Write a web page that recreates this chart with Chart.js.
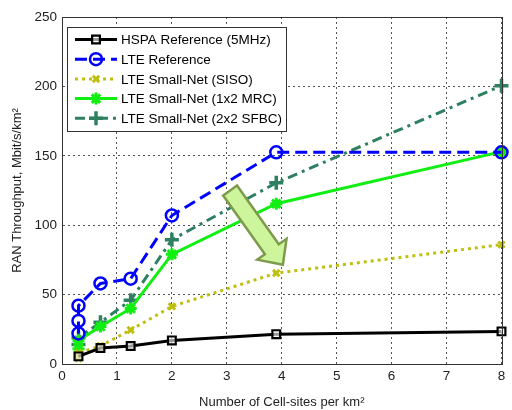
<!DOCTYPE html>
<html>
<head>
<meta charset="utf-8">
<script src="https://cdn.jsdelivr.net/npm/chart.js@4.4.1/dist/chart.umd.min.js"></script>
<style>
  html, body { margin: 0; padding: 0; background: #fff; }
  #wrap { width: 512px; height: 410px; }
</style>
</head>
<body>
<div id="wrap"><canvas id="grafico" width="512" height="410"></canvas></div>
<script>
// ===== dados =====
const xTicks = [0, 1, 2, 3, 4, 5, 6, 7, 8];
const yTicks = [0, 50, 100, 150, 200, 250];

const hspaX = [0.3, 0.7, 1.25, 2, 3.9, 8];
const hspaY = [5.5, 11.5, 13, 17, 21.5, 23.5];

const lteRefX = [0.3, 0.3, 0.3, 0.7, 1.25, 2, 3.9, 8];
const lteRefY = [22, 31, 42, 58, 61.5, 107, 152.5, 152.5];

const sisoX = [0.3, 0.3, 0.7, 1.25, 2, 3.9, 8];
const sisoY = [4, 8, 13, 24.5, 41.5, 65.5, 86];

const mrcX = [0.3, 0.3, 0.7, 1.25, 2, 3.9, 8];
const mrcY = [11, 17, 27, 40, 79, 115.5, 153];

const sfbcX = [0.3, 0.3, 0.7, 1.25, 2, 3.9, 8];
const sfbcY = [14, 19, 30, 46, 89.5, 130.5, 200.5];

const nomes = [
    'HSPA Reference (5MHz)',
    'LTE Reference',
    'LTE Small-Net (SISO)',
    'LTE Small-Net (1x2 MRC)',
    'LTE Small-Net (2x2 SFBC)'
];

function pontos(xs, ys) {
    return xs.map((x, i) => ({ x: x, y: ys[i] }));
}

const FONTE = '"Liberation Sans", Arial, sans-serif';

// seta de anotação (em unidades dos dados)
const setaDe = { x: 3.06, y: 125 };
const setaPara = { x: 4.02, y: 71.5 };

const datasets = [
    {
        label: nomes[0], data: pontos(hspaX, hspaY),
        borderColor: '#000000', borderWidth: 3, borderDash: [],
        pointStyle: 'rect', pointRadius: 5.5, pointBorderWidth: 2.2,
        pointBorderColor: '#000000', pointBackgroundColor: 'rgba(255,255,255,0.6)'
    },
    {
        label: nomes[1], data: pontos(lteRefX, lteRefY),
        borderColor: '#0000ff', borderWidth: 3, borderDash: [12, 6],
        pointStyle: 'circle', pointRadius: 6, pointBorderWidth: 2.5,
        pointBorderColor: '#0000ff', pointBackgroundColor: 'rgba(255,255,255,0)'
    },
    {
        label: nomes[2], data: pontos(sisoX, sisoY),
        borderColor: '#bfbf10', borderWidth: 3, borderDash: [3, 4],
        pointStyle: 'crossRot', pointRadius: 4.5, pointBorderWidth: 3,
        pointBorderColor: '#bfbf10', pointBackgroundColor: '#bfbf10'
    },
    {
        label: nomes[3], data: pontos(mrcX, mrcY),
        borderColor: '#11ee11', borderWidth: 3, borderDash: [],
        pointStyle: 'star', pointRadius: 6, pointBorderWidth: 3,
        pointBorderColor: '#11ee11', pointBackgroundColor: '#11ee11'
    },
    {
        label: nomes[4], data: pontos(sfbcX, sfbcY),
        borderColor: '#2e8060', borderWidth: 3, borderDash: [10, 5, 3, 5],
        pointStyle: 'cross', pointRadius: 7, pointBorderWidth: 3.5,
        pointBorderColor: '#2e8060', pointBackgroundColor: '#2e8060'
    }
];

// Desenha um marcador
function desenharMarcador(ctx, ds, x, y) {
    ctx.save();
    ctx.setLineDash([]);
    ctx.strokeStyle = ds.pointBorderColor;
    ctx.fillStyle = ds.pointBackgroundColor;
    ctx.lineWidth = ds.pointBorderWidth;
    Chart.helpers.drawPoint(ctx, {
        pointStyle: ds.pointStyle, radius: ds.pointRadius, rotation: 0,
        borderWidth: ds.pointBorderWidth
    }, x, y);
    ctx.restore();
}

// Plugin: fundo, caixa, seta e legenda estilo MATLAB
const pluginMatlab = {
    id: 'matlab',
    beforeDraw(chart) {
        const ctx = chart.ctx;
        ctx.save();
        ctx.fillStyle = '#fff';
        ctx.fillRect(0, 0, chart.width, chart.height);
        ctx.restore();
    },
    afterDatasetsDraw(chart) {
        const ctx = chart.ctx;
        const sx = chart.scales.x, sy = chart.scales.y;
        // seta
        const x0 = sx.getPixelForValue(setaDe.x), y0 = sy.getPixelForValue(setaDe.y);
        const x1 = sx.getPixelForValue(setaPara.x), y1 = sy.getPixelForValue(setaPara.y);
        const ang = Math.atan2(y1 - y0, x1 - x0);
        const len = Math.hypot(x1 - x0, y1 - y0);
        const meia = 8.5, cabeca = 18, compCab = 19;
        ctx.save();
        ctx.translate(x0, y0);
        ctx.rotate(ang);
        ctx.beginPath();
        ctx.moveTo(0, -meia);
        ctx.lineTo(len - compCab, -meia);
        ctx.lineTo(len - compCab, -cabeca);
        ctx.lineTo(len, 0);
        ctx.lineTo(len - compCab, cabeca);
        ctx.lineTo(len - compCab, meia);
        ctx.lineTo(0, meia);
        ctx.closePath();
        ctx.fillStyle = '#ccf59c';
        ctx.fill();
        ctx.lineWidth = 2.5;
        ctx.strokeStyle = '#7e9a4c';
        ctx.lineJoin = 'miter';
        ctx.stroke();
        ctx.restore();
    },
    afterDraw(chart) {
        const ctx = chart.ctx;
        const a = chart.chartArea;
        // caixa dos eixos
        ctx.save();
        ctx.strokeStyle = '#333';
        ctx.lineWidth = 1;
        ctx.setLineDash([]);
        ctx.strokeRect(Math.round(a.left) + 0.5, Math.round(a.top) + 0.5,
            Math.round(a.right - a.left), Math.round(a.bottom - a.top));
        ctx.restore();

        // legenda
        const lx = a.left + 5, ly = a.top + 10, lw = 219, lh = 104;
        ctx.save();
        ctx.fillStyle = '#fff';
        ctx.fillRect(lx, ly, lw, lh);
        ctx.strokeStyle = '#333';
        ctx.lineWidth = 1;
        ctx.strokeRect(lx + 0.5, ly + 0.5, lw, lh);
        ctx.font = '13.5px ' + FONTE;
        ctx.textBaseline = 'middle';
        chart.data.datasets.forEach((ds, i) => {
            const yy = ly + 12.5 + i * 19.7;
            ctx.save();
            ctx.strokeStyle = ds.borderColor;
            ctx.lineWidth = ds.borderWidth;
            ctx.setLineDash(ds.borderDash);
            ctx.beginPath();
            ctx.moveTo(lx + 8, yy);
            ctx.lineTo(lx + 50, yy);
            ctx.stroke();
            ctx.restore();
            desenharMarcador(ctx, ds, lx + 29, yy);
            ctx.fillStyle = '#000';
            ctx.fillText(ds.label, lx + 54, yy + 1);
        });
        ctx.restore();
    }
};

const ctx = document.getElementById('grafico').getContext('2d');
new Chart(ctx, {
    type: 'scatter',
    data: { datasets: datasets.map(d => Object.assign({ showLine: true, tension: 0, fill: false, clip: false }, d)) },
    plugins: [pluginMatlab],
    options: {
        responsive: false,
        animation: false,
        layout: { padding: { top: 17, right: 4, left: 0, bottom: 0 } },
        plugins: {
            legend: { display: false },
            tooltip: { enabled: false }
        },
        scales: {
            x: {
                type: 'linear', min: 0, max: 8,
                afterBuildTicks: s => { s.ticks = xTicks.map(v => ({ value: v })); },
                afterFit: s => { s.height = 46; },
                ticks: { color: '#222', font: { family: FONTE, size: 13.5 }, padding: 4 },
                grid: { color: '#555', lineWidth: 1, drawTicks: false },
                border: { display: true, color: '#333', dash: [2, 3] },
                title: {
                    display: true, text: 'Number of Cell-sites per km²', color: '#222',
                    font: { family: FONTE, size: 13 }, padding: { top: 1, bottom: 0 }
                }
            },
            y: {
                type: 'linear', min: 0, max: 250,
                afterBuildTicks: s => { s.ticks = yTicks.map(v => ({ value: v })); },
                afterFit: s => { s.width = 62; },
                ticks: { color: '#222', font: { family: FONTE, size: 13.5 }, padding: 5 },
                grid: { color: '#555', lineWidth: 1, drawTicks: false },
                border: { display: true, color: '#333', dash: [2, 3] },
                title: {
                    display: true, text: 'RAN Throughput, Mbit/s/km²', color: '#222',
                    font: { family: FONTE, size: 13 }, padding: { top: 10, bottom: 0 }
                }
            }
        }
    }
});
</script>
</body>
</html>
